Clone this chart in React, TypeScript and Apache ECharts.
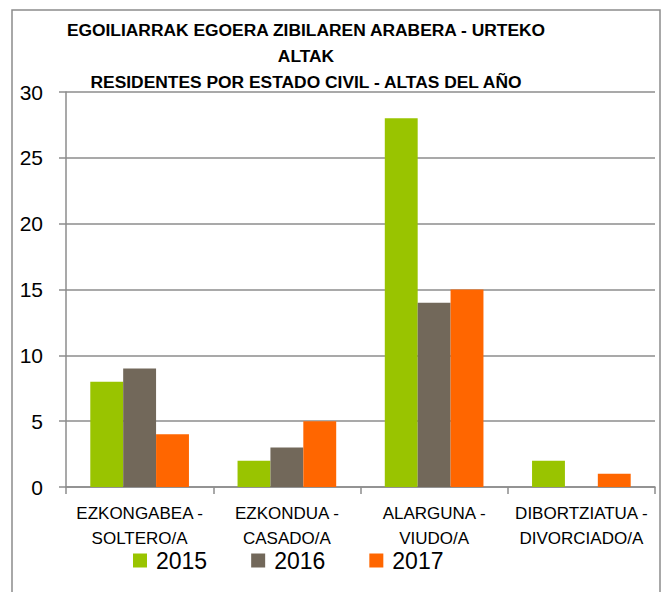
import React, { useEffect, useRef } from "react";
import * as echarts from "echarts";

const categories = [
  "EZKONGABEA -\nSOLTERO/A",
  "EZKONDUA -\nCASADO/A",
  "ALARGUNA -\nVIUDO/A",
  "DIBORTZIATUA -\nDIVORCIADO/A",
];
const years = ["2015", "2016", "2017"];
const values2015 = [8, 2, 28, 2];
const values2016 = [9, 3, 14, 0];
const values2017 = [4, 5, 15, 1];
const colors = ["#99c400", "#72685a", "#ff6600"];
const titleLines = [
  "EGOILIARRAK EGOERA ZIBILAREN ARABERA - URTEKO",
  "ALTAK",
  "RESIDENTES POR ESTADO CIVIL - ALTAS DEL AÑO",
];

const FONT = "'Liberation Sans', Arial, sans-serif";

export default function App() {
  const ref = useRef<HTMLDivElement>(null);
  useEffect(() => {
    document.body.style.margin = "0";
    if (!ref.current) return;
    const chart = echarts.init(ref.current, null, { renderer: "svg" });
    const seriesData = [values2015, values2016, values2017];
    chart.setOption({
      animation: false,
      backgroundColor: "#ffffff",
      title: {
        text: titleLines.join("\n"),
        left: 301,
        top: 12,
        textAlign: "center",
        textStyle: {
          fontFamily: FONT,
          fontWeight: "bold",
          fontSize: 17.4,
          lineHeight: 26,
          color: "#000",
        },
      },
      graphic: [
        {
          type: "rect",
          shape: { x: 12, y: 10, width: 648, height: 590 },
          style: { fill: "none", stroke: "#8c8c8c", lineWidth: 1.5 },
          silent: true,
          z: -1,
        },
      ],
      legend: {
        data: years,
        top: 544,
        left: 128,
        itemWidth: 14,
        itemHeight: 14,
        itemGap: 44,
        icon: "rect",
        textStyle: { fontFamily: FONT, fontSize: 23, color: "#000", padding: [0, 0, 0, 4] },
      },
      grid: { left: 66, right: 12, top: 92, bottom: 105, containLabel: false },
      xAxis: {
        type: "category",
        data: categories,
        axisLine: { show: true, lineStyle: { color: "#8c8c8c", width: 1.5 } },
        axisTick: { show: true, length: 7, lineStyle: { color: "#8c8c8c", width: 1.5 } },
        axisLabel: {
          fontFamily: FONT,
          fontSize: 17,
          lineHeight: 25,
          color: "#000",
          margin: 14,
          interval: 0,
        },
      },
      yAxis: {
        type: "value",
        min: 0,
        max: 30,
        interval: 5,
        axisLine: { show: true, lineStyle: { color: "#8c8c8c", width: 1.5 } },
        axisTick: { show: true, length: 7, lineStyle: { color: "#8c8c8c", width: 1.5 } },
        splitLine: { show: true, lineStyle: { color: "#8c8c8c", width: 1.5 } },
        axisLabel: { fontFamily: FONT, fontSize: 21, color: "#000", margin: 23 },
      },
      series: years.map((y, i) => ({
        name: y,
        type: "bar",
        data: seriesData[i],
        itemStyle: { color: colors[i] },
        barGap: "0%",
        barCategoryGap: "33%",
      })),
    });
    return () => chart.dispose();
  }, []);
  return <div ref={ref} style={{ width: 667, height: 592 }} />;
}
